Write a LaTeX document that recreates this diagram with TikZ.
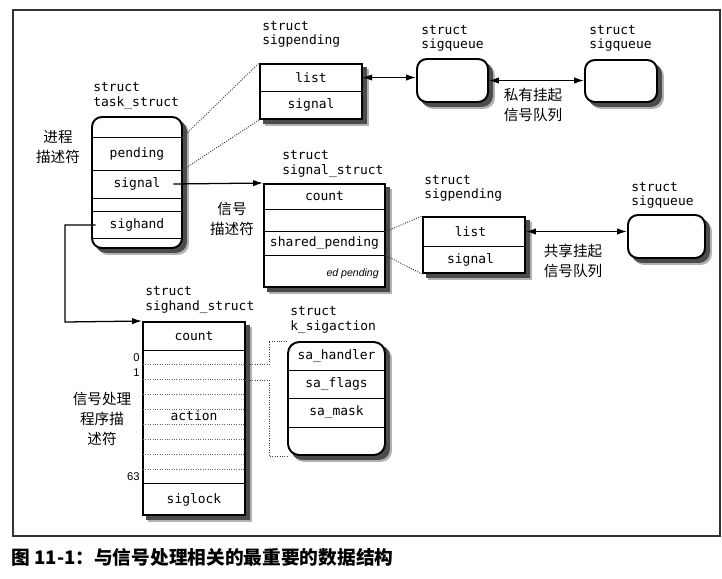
\documentclass[tikz,border=0pt]{standalone}
\usepackage{fontspec}
\setmonofont{DejaVu Sans Mono}
\newfontfamily\cjk{Noto Sans CJK SC}
\newfontfamily\lsans{Liberation Sans}
\usepackage{tikz}
\usetikzlibrary{arrows.meta,positioning,fit,backgrounds}

\tikzset{
  box/.style={draw, line width=1.4pt, fill=white, inner sep=0pt},
  rbox/.style={box, rounded corners=7pt},
  fld/.style={inner sep=0pt, font=\ttfamily\fontsize{9.2}{11}\selectfont},
  field/.style={inner sep=0pt, label={[fld]center:#1}},
  sep/.style={line width=0.8pt},
  tag/.style={anchor=west, align=left, inner sep=0pt, font=\ttfamily\fontsize{9.2}{10}\selectfont},
  note/.style={align=center, inner sep=0pt, font=\cjk\fontsize{10.4}{14}\selectfont},
  idx/.style={inner sep=0pt, font=\lsans\fontsize{8}{9}\selectfont},
  link/.style={-{Latex[length=7pt,width=4.5pt]}, line width=0.9pt},
  both/.style={{Latex[length=7pt,width=4.5pt]}-{Latex[length=7pt,width=4.5pt]}, line width=0.9pt},
  dots/.style={densely dotted, line width=0.7pt, black!75},
  softshadow/.style={fill=black!30},
  darkshadow/.style={fill=black!70},
}

\begin{document}
\begin{tikzpicture}[x=0.25mm,y=-0.25mm]
      \useasboundingbox (0,0) rectangle (722,578);
      \node[draw=black!80, line width=0.8pt, inner sep=0pt, fit={(13,10) (720,536)}] (frame) {};

      % task_struct
      \node[rbox, fit={(92,117) (182,248)}] (task) {};
      \node[field=pending, fit={(92,138) (182,170)}] (t-pend) {};
      \node[field=signal, fit={(92,170) (182,198)}] (t-sig) {};
      \node[field=sighand, fit={(92,212) (182,238)}] (t-hand) {};
      \draw[sep] (t-pend.north west) -- (t-pend.north east);
      \draw[sep] (t-pend.south west) -- (t-pend.south east);
      \draw[sep] (t-sig.south west) -- (t-sig.south east);
      \draw[sep] (t-hand.north west) -- (t-hand.north east);
      \draw[sep] (t-hand.south west) -- (t-hand.south east);
      \node[tag] (t-tag) at (93,96) {struct\\task\_struct};
      \node[note] (t-note) at (58,147) {进程\\描述符};

      % private sigpending
      \node[box, fit={(260,64) (362,119)}] (sp1) {};
      \node[field=list, fit={(260,64) (362,91)}] (sp1-list) {};
      \node[field=signal, fit={(260,91) (362,119)}] (sp1-sig) {};
      \draw[sep] (sp1-list.south west) -- (sp1-list.south east);
      \node[tag] (sp1-tag) at (262,34) {struct\\sigpending};

      % private queue
      \node[rbox, fit={(417,59) (488,102)}] (sq1) {};
      \node[rbox, fit={(585,60) (657,102)}] (sq2) {};
      \node[tag] (sq1-tag) at (421,38) {struct\\sigqueue};
      \node[tag] (sq2-tag) at (589,38) {struct\\sigqueue};
      \node[note] (sq-note) at (533,105) {私有挂起\\信号队列};

      % signal_struct
      \node[box, fit={(264,184) (385,287)}] (ss) {};
      \node[field=count, fit={(264,184) (385,209)}] (ss-count) {};
      \node[field=shared\_pending, fit={(264,232) (385,255)}] (ss-shared) {};
      \node[idx, anchor=east, font=\lsans\itshape\fontsize{7.5}{9}\selectfont] (ss-ed) at (379,274) {ed pending};
      \draw[sep] (ss-count.south west) -- (ss-count.south east);
      \draw[sep] (ss-shared.north west) -- (ss-shared.north east);
      \draw[sep] (ss-shared.south west) -- (ss-shared.south east);
      \node[tag] (ss-tag) at (282,164) {struct\\signal\_struct};
      \node[note] (ss-note) at (232,219) {信号\\描述符};

      % shared sigpending and queue
      \node[box, fit={(423,217) (525,273)}] (sp2) {};
      \node[field=list, fit={(423,217) (518,246)}] (sp2-list) {};
      \node[field=signal, fit={(423,246) (518,273)}] (sp2-sig) {};
      \draw[sep] (sp2.west |- sp2-list.south) -- (sp2.east |- sp2-list.south);
      \node[tag] (sp2-tag) at (424,188) {struct\\sigpending};
      \node[rbox, fit={(628,215) (705,258)}] (sq3) {};
      \node[tag] (sq3-tag) at (631,195) {struct\\sigqueue};
      \node[note] (sh-note) at (573,261) {共享挂起\\信号队列};

      % sighand_struct
      \node[box, fit={(143,322) (245,515)}] (hs) {};
      \node[field=count, fit={(143,322) (245,350)}] (hs-count) {};
      \node[field={}, fit={(143,350) (245,365)}] (hs-s0) {};
      \node[field={}, fit={(143,365) (245,380)}] (hs-s1) {};
      \node[field={}, fit={(143,469) (245,484)}] (hs-s63) {};
      \node[field=siglock, fit={(143,484) (245,515)}] (hs-lock) {};
      \draw[sep] (hs-count.south west) -- (hs-count.south east);
      \draw[sep] (hs-lock.north west) -- (hs-lock.north east);
      \foreach \k in {1,...,8}
        \draw[dots, black!60] (143,350+14.89*\k) -- (245,350+14.89*\k);
      \node[fld, fill=white, inner sep=1pt] (hs-act) at (194,416) {action};
      \node[idx, left=2pt of hs-s0.west] (i0) {0};
      \node[idx, left=2pt of hs-s1.west] (i1) {1};
      \node[idx, left=2pt of hs-s63.west] (i63) {63};
      \node[tag] (hs-tag) at (145,300) {struct\\sighand\_struct};
      \node[note] (hs-note) at (102,419) {信号处理\\程序描\\述符};

      % k_sigaction
      \node[rbox, rounded corners=8pt, fit={(288,342) (385,455)}] (ksa) {};
      \node[field=sa\_handler, fit={(288,342) (385,370)}] (k-hdl) {};
      \node[field=sa\_flags, fit={(288,370) (385,398)}] (k-flg) {};
      \node[field=sa\_mask, fit={(288,398) (385,427)}] (k-msk) {};
      \draw[sep] (k-hdl.south west) -- (k-hdl.south east);
      \draw[sep] (k-flg.south west) -- (k-flg.south east);
      \draw[sep] (k-msk.south west) -- (k-msk.south east);
      \node[tag] (k-tag) at (290,320) {struct\\k\_sigaction};

      % shadows behind the boxes
      \begin{scope}[on background layer]
        \foreach \b in {sp1,ss,sp2,hs} {
          \fill[softshadow] ([shift={(6,6)}]\b.north west) rectangle ([shift={(6,6)}]\b.south east);
          \fill[darkshadow] ([shift={(4,4)}]\b.north west) rectangle ([shift={(4,4)}]\b.south east);
        }
        \foreach \b in {task,sq1,sq2,sq3,ksa} {
          \fill[softshadow, rounded corners=8pt] ([shift={(6,6)}]\b.north west) rectangle ([shift={(6,6)}]\b.south east);
          \fill[darkshadow, rounded corners=8pt] ([shift={(4,4)}]\b.north west) rectangle ([shift={(4,4)}]\b.south east);
        }
      \end{scope}

      % connectors
      \draw[link] ([xshift=-2.2mm]t-sig.east) -- (ss.north west);
      \coordinate (hbend) at (65,322);
      \draw[link] ([xshift=1mm]t-hand.west) -| (hbend) -- (hs.north west);
      \draw[dots] (t-pend.north east) -- (sp1.north west);
      \draw[dots] (t-pend.south east) -- (sp1.south west);
      \draw[dots] (ss-shared.north east) -- (sp2.north west);
      \draw[dots] (ss-shared.south east) -- (sp2.south west);
      \draw[dots] (hs-s1.north east) -| ([xshift=-4.5mm]ksa.north west) -- (ksa.north west);
      \draw[dots] (hs-s1.south east) -| ([xshift=-4.5mm]ksa.south west) -- (ksa.south west);
      \draw[both] (sp1-list.east) -- (sp1-list.east -| sq1.west);
      \draw[both] (sq1.east) -- (sq1.east -| sq2.west);
      \draw[both] (sp2.east |- sp2-list.east) -- (sp2-list.east -| sq3.west);

      \node[anchor=west, inner sep=0pt, font=\cjk\bfseries\fontsize{13.3}{15}\selectfont] (caption) at (11,557) {图 11-1：与信号处理相关的最重要的数据结构};
    \end{tikzpicture}
\end{document}
